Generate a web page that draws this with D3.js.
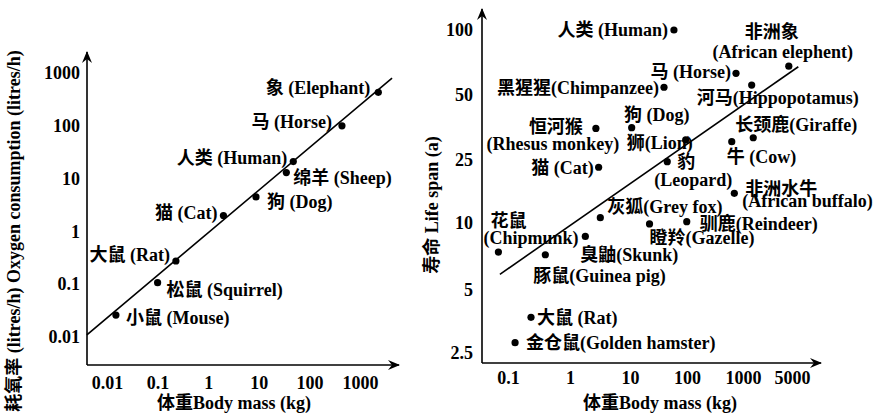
<!DOCTYPE html>
<html>
<head>
<meta charset="utf-8">
<script src="https://cdn.jsdelivr.net/npm/d3@7"></script>
<style>
  body { margin: 0; background: #fff; }
  text { font-family: "Liberation Serif", "Noto Sans CJK SC", serif; font-weight: bold; font-size: 18px; fill: #000; }
</style>
</head>
<body>
<svg id="chart" width="880" height="413"></svg>
<script>
// left panel: oxygen consumption vs body mass
const o2Animals = ["Mouse", "Squirrel", "Rat", "Cat", "Dog", "Sheep", "Human", "Horse", "Elephant"]
const o2Mass = [0.015, 0.1, 0.23, 2, 8.8, 35, 48, 440, 2300]
const o2Rate = [0.026, 0.107, 0.275, 2.0, 4.5, 13, 21, 100, 430]
const o2Labels = [["小鼠 (Mouse)"], ["松鼠 (Squirrel)"], ["大鼠 (Rat)"], ["猫 (Cat)"], ["狗 (Dog)"],
    ["绵羊 (Sheep)"], ["人类 (Human)"], ["马 (Horse)"], ["象 (Elephant)"]]
const o2FitMass = [0.004, 4300]
const o2FitRate = [0.011, 800]
const o2TicksX = [0.01, 0.1, 1, 10, 100, 1000]
const o2TickLabelsX = ["0.01", "0.1", "1", "10", "100", "1000"]
const o2TicksY = [0.01, 0.1, 1, 10, 100, 1000]
const o2TickLabelsY = ["0.01", "0.1", "1", "10", "100", "1000"]

// right panel: life span vs body mass
const lifeAnimals = ["Human", "African elephant", "Horse", "Hippopotamus", "Chimpanzee", "Rhesus monkey",
    "Dog", "Lion", "Giraffe", "Cow", "Cat", "Leopard", "African buffalo", "Grey fox", "Chipmunk",
    "Skunk", "Guinea pig", "Gazelle", "Reindeer", "Rat", "Golden hamster"]
const lifeMass = [59, 4500, 750, 1330, 39.5, 2.7, 10.7, 95, 1400, 630, 3, 45, 700, 3.2, 0.07,
    1.8, 0.4, 22, 99, 0.235, 0.13]
const lifeSpan = [100, 68, 63, 55.6, 54.3, 35, 35.3, 31, 31.7, 30.4, 22.5, 24.4, 15.4, 10.8, 7.4,
    8.7, 7.2, 9.9, 10.2, 3.7, 2.8]
const lifeLabels = [["人类 (Human)"], ["非洲象", "(African elephent)"], ["马 (Horse)"], ["河马(Hippopotamus)"],
    ["黑猩猩(Chimpanzee)"], ["恒河猴", "(Rhesus monkey)"], ["狗 (Dog)"], ["狮(Lion)"], ["长颈鹿(Giraffe)"],
    ["牛 (Cow)"], ["猫 (Cat)"], ["豹", "(Leopard)"], ["非洲水牛", "(African buffalo)"], ["灰狐(Grey fox)"],
    ["花鼠", "(Chipmunk)"], ["臭鼬(Skunk)"], ["豚鼠(Guinea pig)"], ["瞪羚(Gazelle)"], ["驯鹿(Reindeer)"],
    ["大鼠 (Rat)"], ["金仓鼠(Golden hamster)"]]
const lifeFitMass = [0.074, 6150]
const lifeFitSpan = [5.88, 67.6]
const lifeTicksX = [0.1, 1, 10, 100, 1000, 5000]
const lifeTickLabelsX = ["0.1", "1", "10", "100", "1000", "5000"]
const lifeTicksY = [2.5, 5, 10, 25, 50, 100]
const lifeTickLabelsY = ["2.5", "5", "10", "25", "50", "100"]

// label placement, one [anchor, dx, dy] per text line, relative to the dot
const o2Place = [[["start", 10, 3]], [["start", 9, 7]], [["end", -6, -6]], [["end", -6, -3]], [["start", 11, 5]],
    [["start", 7, 5]], [["end", -6, -4]], [["end", -10, -4]], [["end", -8, -5]]]
const lifePlace = [[["end", -6, 0]], [["middle", -17, -34], ["middle", -6, -14]], [["end", -5, -2]],
    [["start", -55, 13]], [["end", -5, 0]], [["end", -13, -2], ["middle", -43, 15]], [["middle", 25, -13]],
    [["start", -59, 3]], [["middle", 43, -13]], [["start", -5, 15]], [["end", -5, 0]],
    [["start", 10, 0], ["middle", 26, 18]], [["start", 11, -5], ["start", 8, 7]], [["start", 7, -11]],
    [["start", -8, -31], ["start", -15, -14]], [["start", -5, 18]], [["start", -12, 21]], [["start", 0, 14]],
    [["start", 13, 2]], [["start", 6, 0]], [["start", 11, 0]]]

const svg = d3.select('#chart')

svg.append('defs').append('marker')
    .attr('id', 'arrow')
    .attr('viewBox', '-12 -6 14 12')
    .attr('refX', 0).attr('refY', 0)
    .attr('markerWidth', 14).attr('markerHeight', 12)
    .attr('markerUnits', 'userSpaceOnUse')
    .attr('orient', 'auto')
    .append('path')
    .attr('d', 'M1,0 L-11,-5 L-7,0 L-11,5 Z')
    .attr('fill', '#000')

const drawPanel = (p) => {
    const g = svg.append('g')

    // axis lines with arrows
    g.append('line')
        .attr('x1', p.origin[0]).attr('y1', p.origin[1])
        .attr('x2', p.origin[0]).attr('y2', p.yTip)
        .attr('stroke', '#000').attr('stroke-width', 1.6)
        .attr('marker-end', 'url(#arrow)')
    g.append('line')
        .attr('x1', p.origin[0]).attr('y1', p.origin[1])
        .attr('x2', p.xTip).attr('y2', p.origin[1])
        .attr('stroke', '#000').attr('stroke-width', 1.6)
        .attr('marker-end', 'url(#arrow)')

    const xAxis = g.append('g')
        .attr('transform', `translate(0,${p.origin[1]})`)
        .call(d3.axisBottom(p.x).tickValues(p.xTicks).tickFormat((d, i) => p.xTickLabels[i])
            .tickSize(0).tickPadding(p.xPad))
    const yAxis = g.append('g')
        .attr('transform', `translate(${p.origin[0]},0)`)
        .call(d3.axisLeft(p.y).tickValues(p.yTicks).tickFormat((d, i) => p.yTickLabels[i])
            .tickSize(0).tickPadding(p.yPad))
    ;[xAxis, yAxis].forEach(a => {
        a.attr('font-family', null).attr('font-size', null)
        a.select('.domain').remove()
    })

    // fitted line
    g.append('line')
        .attr('x1', p.x(p.fitX[0])).attr('y1', p.y(p.fitY[0]))
        .attr('x2', p.x(p.fitX[1])).attr('y2', p.y(p.fitY[1]))
        .attr('stroke', '#000').attr('stroke-width', 1.6)

    // dots
    g.selectAll('circle.dot').data(p.xs).join('circle')
        .attr('class', 'dot')
        .attr('cx', (d) => p.x(d))
        .attr('cy', (d, i) => p.y(p.ys[i]))
        .attr('r', 3.6)
        .attr('fill', '#000')

    // labels
    p.labels.forEach((lines, i) => {
        const cx = p.x(p.xs[i])
        const cy = p.y(p.ys[i])
        lines.forEach((txt, j) => {
            const [anchor, dx, dy] = p.place[i][j]
            g.append('text')
                .attr('x', cx + dx).attr('y', cy + dy)
                .attr('dy', '0.35em')
                .attr('text-anchor', anchor)
                .text(txt)
        })
    })

    // axis titles
    g.append('text')
        .attr('x', p.xTitlePos[0]).attr('y', p.xTitlePos[1])
        .attr('text-anchor', 'middle')
        .text('体重Body mass (kg)')
    g.append('text')
        .attr('transform', `translate(${p.yTitlePos[0]},${p.yTitlePos[1]}) rotate(-90)`)
        .attr('dy', '0.35em')
        .attr('text-anchor', 'middle')
        .text(p.yTitle)
}

drawPanel({
    x: d3.scaleLog().domain([0.01, 1000]).range([107, 360]),
    y: d3.scaleLog().domain([0.01, 1000]).range([337, 73]),
    origin: [87, 365], xTip: 399, yTip: 52,
    xTicks: o2TicksX, xTickLabels: o2TickLabelsX, yTicks: o2TicksY, yTickLabels: o2TickLabelsY,
    xPad: 11, yPad: 7,
    fitX: o2FitMass, fitY: o2FitRate,
    xs: o2Mass, ys: o2Rate, labels: o2Labels, place: o2Place,
    xTitlePos: [234, 409], yTitlePos: [14, 231],
    yTitle: '耗氧率 (litres/h) Oxygen consumption (litres/h)'
})

drawPanel({
    x: d3.scaleLog().domain(lifeTicksX).range([508, 570, 630, 687, 743, 792]),
    y: d3.scaleLog().domain(lifeTicksY).range([353, 290, 223, 160, 95, 30]),
    origin: [482, 363], xTip: 821, yTip: 9,
    xTicks: lifeTicksX, xTickLabels: lifeTickLabelsX, yTicks: lifeTicksY, yTickLabels: lifeTickLabelsY,
    xPad: 8, yPad: 9,
    fitX: lifeFitMass, fitY: lifeFitSpan,
    xs: lifeMass, ys: lifeSpan, labels: lifeLabels, place: lifePlace,
    xTitlePos: [660, 409], yTitlePos: [432, 205],
    yTitle: '寿命 Life span (a)'
})
</script>
</body>
</html>
